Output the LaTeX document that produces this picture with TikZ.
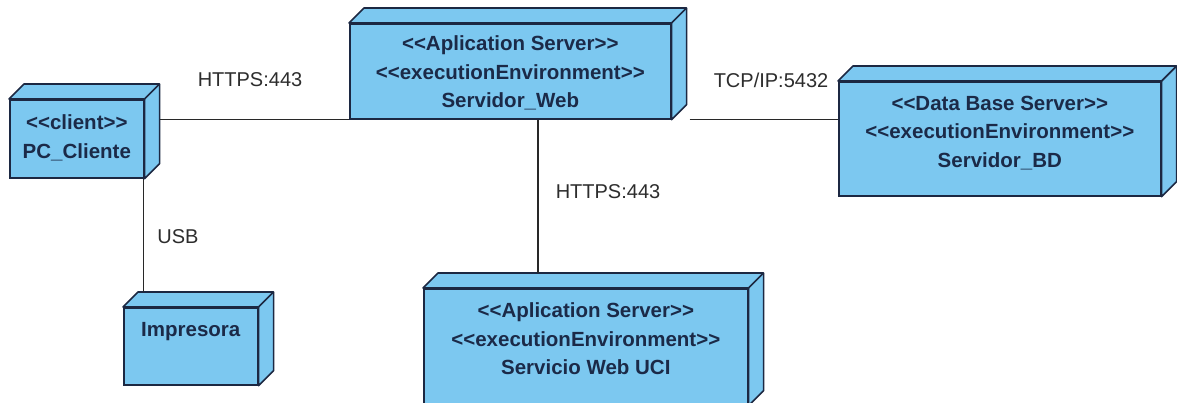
\documentclass[tikz,border=0pt]{standalone}
\usepackage{fontspec}
\setmainfont{Liberation Sans}[Ligatures=TeXOff]
\definecolor{nodefill}{RGB}{124,200,240}
\definecolor{nodeline}{RGB}{28,40,66}
\definecolor{nodetext}{RGB}{27,42,72}
\definecolor{lbltext}{RGB}{45,45,45}
\definecolor{conn}{RGB}{40,40,40}
\tikzset{
  front/.style={draw=nodeline, line width=1.6pt, fill=nodefill, inner sep=0pt, anchor=north west},
  face/.style={draw=nodeline, line width=1.6pt, fill=nodefill, line join=round},
  ntext/.style={text=nodetext, font=\fontsize{20.5}{28.5}\selectfont\bfseries, align=center, inner sep=0pt, anchor=north},
  lbl/.style={text=lbltext, font=\fontsize{20}{24}\selectfont, inner sep=0pt},
  conline/.style={draw=conn, line width=1.4pt}
}
\newcommand\cubefaces[1]{%
  \draw[face] (#1.north west) -- ++(15,-15) -| ([shift={(15pt,15pt)}]#1.south east) -- (#1.south east) -- (#1.north east) -- cycle;
  \draw[face] (#1.north east) -- ++(15,-15);}
\begin{document}
\begin{tikzpicture}[x=1pt,y=-1pt]
\clip (0,0) rectangle (1177,402);
\fill[white] (0,0) rectangle (1177,402);
% nodes (front faces)
\node[front, minimum width=134pt, minimum height=78pt] (pc) at (9,99) {};
\cubefaces{pc}
\node[front, minimum width=321pt, minimum height=95pt] (web) at (349,23) {};
\cubefaces{web}
\node[front, minimum width=322pt, minimum height=114pt] (bd) at (838,81) {};
\cubefaces{bd}
\node[front, minimum width=134pt, minimum height=77pt] (imp) at (123,307) {};
\cubefaces{imp}
\node[front, minimum width=324pt, minimum height=116pt] (uci) at (423,288) {};
\cubefaces{uci}
% texts
\node[ntext] (pct) at ([yshift=-15.5pt]pc.north) {<<client>>\\PC\_Cliente};
\node[ntext] (webt) at ([yshift=-12.5pt]web.north) {<<Aplication Server>>\\<<executionEnvironment>>\\Servidor\_Web};
\node[ntext] (bdt) at ([yshift=-14.5pt]bd.north) {<<Data Base Server>>\\<<executionEnvironment>>\\Servidor\_BD};
\node[ntext] (impt) at ([yshift=-15.5pt]imp.north) {Impresora};
\node[ntext] (ucit) at ([yshift=-14.5pt]uci.north) {<<Aplication Server>>\\<<executionEnvironment>>\\Servicio Web UCI};
% connectors
\coordinate (pcside) at ([xshift=15pt]pc.east |- web.south west);
\draw[conline] (pcside) -- (web.south west);
\coordinate (webside) at ([xshift=18pt]web.south east);
\draw[conline] (webside) -- (bd.west |- webside);
\coordinate (webbot) at ([xshift=27.5pt]web.south);
\coordinate (ucitop) at ([yshift=15pt]uci.north);
\draw[conline] (webbot) -- (webbot |- ucitop);
\coordinate (imptop) at ([yshift=15pt]imp.north);
\draw[conline] ([xshift=-1pt]pc.south east) -- ([xshift=-1pt]pc.south east |- imptop);
% labels
\node[lbl] (l1) at (250,80) {HTTPS:443};
\node[lbl] (l2) at (771,80) {TCP/IP:5432};
\node[lbl] (l3) at (608,192) {HTTPS:443};
\node[lbl] (l4) at (178,237) {USB};
\end{tikzpicture}
\end{document}
